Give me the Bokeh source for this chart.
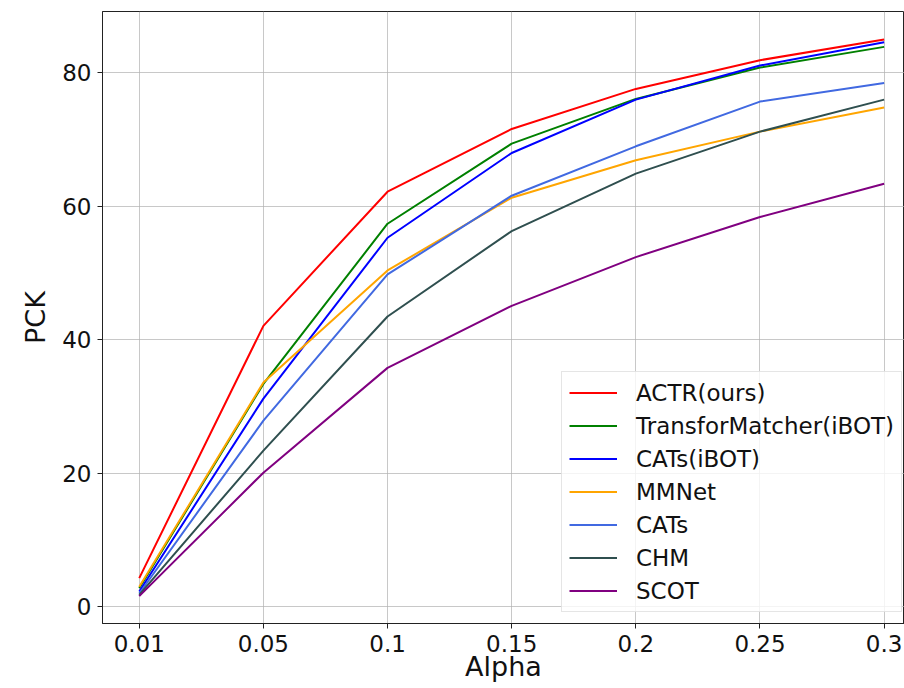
from bokeh.plotting import figure
from bokeh.models import Range1d, FixedTicker, Legend, LegendItem
from bokeh.embed import file_html
from bokeh.resources import INLINE

alpha_labels = ["0.01", "0.05", "0.1", "0.15", "0.2", "0.25", "0.3"]
yticks = [0, 20, 40, 60, 80]

actr = [4.3, 42.1, 62.2, 71.6, 77.6, 81.9, 85.0]
transformatcher = [2.8, 33.4, 57.4, 69.4, 76.1, 80.8, 83.9]
cats_ibot = [2.3, 31.2, 55.3, 68.0, 76.0, 81.1, 84.6]
mmnet = [3.0, 33.6, 50.4, 61.3, 66.9, 71.2, 74.8]
cats = [2.0, 27.9, 49.8, 61.6, 69.0, 75.7, 78.5]
chm = [1.8, 23.4, 43.5, 56.3, 64.9, 71.2, 76.0]
scot = [1.6, 20.1, 35.8, 45.1, 52.4, 58.4, 63.4]

names = ["ACTR(ours)", "TransforMatcher(iBOT)", "CATs(iBOT)", "MMNet", "CATs", "CHM", "SCOT"]
series = [actr, transformatcher, cats_ibot, mmnet, cats, chm, scot]
colors = ["red", "green", "blue", "orange", "royalblue", "darkslategray", "purple"]

xs = list(range(len(alpha_labels)))

p = figure(width=904, height=688, output_backend="svg", toolbar_location=None,
           x_range=Range1d(-0.296, 6.164), y_range=Range1d(-2.5, 89.2),
           min_border_left=102, min_border_right=0, min_border_top=11, min_border_bottom=65)

FONT = "DejaVu Sans"
renderers = []
for name, vals, c in zip(names, series, colors):
    r = p.line(xs, vals, line_color=c, line_width=2)
    renderers.append((name, r))

p.xaxis.ticker = FixedTicker(ticks=xs)
p.xaxis.major_label_overrides = {i: lab for i, lab in enumerate(alpha_labels)}
p.yaxis.ticker = FixedTicker(ticks=yticks)

p.xaxis.axis_label = "Alpha"
p.yaxis.axis_label = "PCK"
for ax in [p.xaxis, p.yaxis]:
    ax.axis_label_text_font = FONT
    ax.axis_label_text_font_size = "27px"
    ax.axis_label_text_font_style = "normal"
    ax.axis_label_text_color = "#111111"
    ax.major_label_text_font = FONT
    ax.major_label_text_font_size = "23px"
    ax.major_label_text_color = "#111111"
    ax.major_tick_out = 5
    ax.major_tick_in = 0
    ax.minor_tick_out = 0
    ax.minor_tick_in = 0
    ax.axis_line_color = "#222222"
    ax.major_tick_line_color = "#222222"
p.xaxis.major_label_standoff = 6
p.xaxis.axis_label_standoff = -4
p.yaxis.major_label_standoff = 6
p.yaxis.axis_label_standoff = 8

p.grid.grid_line_color = "#b0b0b0"
p.grid.grid_line_alpha = 0.7
p.grid.grid_line_width = 1
p.outline_line_color = "#222222"
p.outline_line_width = 1

legend = Legend(items=[LegendItem(label=n, renderers=[r]) for n, r in renderers],
                location=(459, 11))
legend.label_text_font = FONT
legend.label_text_font_size = "23px"
legend.label_text_color = "#111111"
legend.glyph_width = 48
legend.glyph_height = 27
legend.label_height = 27
legend.label_standoff = 19
legend.spacing = 6
legend.padding = 7
legend.margin = 0
legend.border_line_color = "#cccccc"
legend.border_line_width = 1
legend.background_fill_alpha = 0.8
p.add_layout(legend)

open("out.html", "w").write(file_html(p, INLINE))
